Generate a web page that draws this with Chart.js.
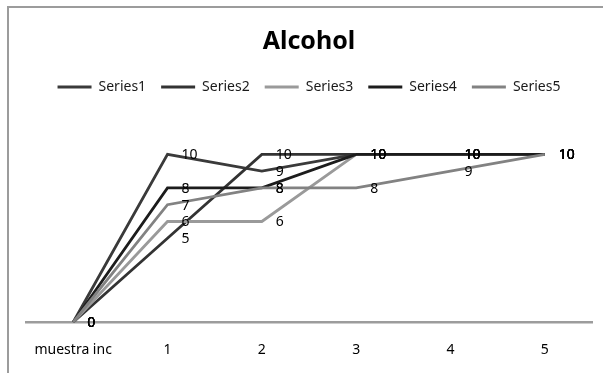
<!DOCTYPE html>
<html>
<head>
<meta charset="utf-8">
<script src="https://cdn.jsdelivr.net/npm/chart.js@4.4.0/dist/chart.umd.min.js"></script>
<style>
  html, body { margin: 0; padding: 0; background: #ffffff; overflow: hidden; }
  #wrap { position: relative; width: 603px; height: 373px; overflow: hidden; background: #ffffff; }
  #frame { position: absolute; left: 7px; top: 6px; width: 700px; height: 500px; border: 2px solid #9c9c9c; box-sizing: border-box; }
  #chart { position: absolute; left: 0; top: 0; }
</style>
</head>
<body>
<div id="wrap">
  <div id="frame"></div>
  <canvas id="chart" width="603" height="373"></canvas>
</div>
<script>
// Categories along the bottom axis
const categories = ['muestra inc', '1', '2', '3', '4', '5'];

// Scores for each series
const series1 = [0, 10, 9, 10, 10, 10];
const series2 = [0, 5, 10, 10, 10, 10];
const series3 = [0, 6, 6, 10, 10, 10];
const series4 = [0, 8, 8, 10, 10, 10];
const series5 = [0, 7, 8, 8, 9, 10];

const seriesNames = ['Series1', 'Series2', 'Series3', 'Series4', 'Series5'];
const seriesValues = [series1, series2, series3, series4, series5];
const seriesColors = ['#3a3a3a', '#333333', '#9a9a9a', '#1c1c1c', '#828282'];

const FONT = '"Noto Sans", "Open Sans", sans-serif';

// Writes each point's value just to the right of it
const valueLabels = {
  id: 'valueLabels',
  afterDatasetsDraw(chart) {
    const ctx = chart.ctx;
    ctx.save();
    ctx.font = '14px ' + FONT;
    ctx.fillStyle = '#000000';
    ctx.textAlign = 'left';
    ctx.textBaseline = 'middle';
    chart.data.datasets.forEach((ds, i) => {
      const meta = chart.getDatasetMeta(i);
      meta.data.forEach((pt, j) => {
        ctx.fillText(String(ds.data[j]), pt.x + 14, pt.y + 1);
      });
    });
    ctx.restore();
  }
};

const datasets = seriesNames.map((name, i) => ({
  label: name,
  data: seriesValues[i],
  borderColor: seriesColors[i],
  backgroundColor: seriesColors[i],
  borderWidth: 2.8,
  pointRadius: 0,
  pointHoverRadius: 0,
  tension: 0,
  fill: false,
  order: seriesNames.length - i
}));

new Chart(document.getElementById('chart'), {
  type: 'line',
  data: { labels: categories, datasets },
  plugins: [valueLabels],
  options: {
    responsive: false,
    animation: false,
    devicePixelRatio: 1,
    layout: { padding: { left: 26, right: 11, top: 0, bottom: -4 } },
    plugins: {
      title: {
        display: true,
        text: 'Alcohol',
        color: '#000000',
        font: { family: FONT, size: 25, weight: 'bold' },
        padding: { top: 27, bottom: 8 }
      },
      legend: {
        display: true,
        position: 'top',
        labels: {
          usePointStyle: true,
          pointStyle: 'line',
          pointStyleWidth: 34,
          color: '#1a1a1a',
          font: { family: FONT, size: 14 },
          padding: 15,
          sort: (a, b) => a.datasetIndex - b.datasetIndex
        }
      },
      tooltip: { enabled: false }
    },
    scales: {
      x: {
        offset: true,
        grid: { display: false, drawTicks: false, tickLength: 0 },
        border: { display: true, color: '#9c9c9c', width: 2.5 },
        ticks: { color: '#000000', font: { family: FONT, size: 14 }, padding: 19 }
      },
      y: {
        display: false,
        min: 0,
        max: 13
      }
    }
  }
});
</script>
</body>
</html>
